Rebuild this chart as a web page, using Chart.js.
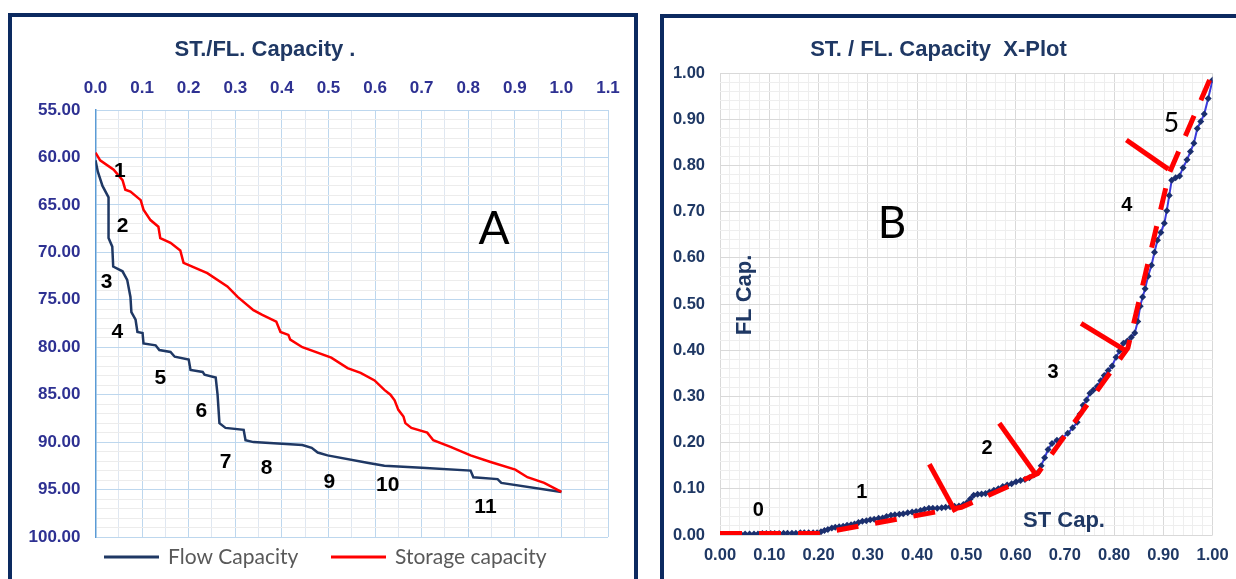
<!DOCTYPE html>
<html>
<head>
<meta charset="utf-8">
<script src="https://cdn.jsdelivr.net/npm/chart.js@4.4.1/dist/chart.umd.min.js"></script>
<style>
  body { margin: 0; background: #fff; overflow: hidden; }
  #wrap { position: relative; width: 1236px; height: 579px; overflow: hidden; }
  canvas { position: absolute; top: 0; }
  .frame { position: absolute; border: 4px solid #0c2a60; pointer-events: none; }
</style>
</head>
<body>
<div id="wrap">
  <canvas id="chartA" width="636" height="579" style="left:0"></canvas>
  <canvas id="chartB" width="596" height="579" style="left:640px"></canvas>
  <div class="frame" style="left:8px;top:13px;width:622px;height:620px"></div>
  <div class="frame" style="left:660px;top:14px;width:620px;height:620px"></div>
</div>
<script>
// ---- Panel A: capacity profiles vs depth ----
const flowCapX = [0.000, 0.005, 0.015, 0.028, 0.028, 0.036, 0.038, 0.058, 0.068, 0.075,
                  0.077, 0.086, 0.090, 0.101, 0.103, 0.129, 0.137, 0.161, 0.170, 0.200,
                  0.204, 0.230, 0.234, 0.258, 0.262, 0.266, 0.279, 0.318, 0.322, 0.339,
                  0.444, 0.464, 0.477, 0.498, 0.586, 0.620, 0.700, 0.805, 0.811, 0.863,
                  0.871, 1.000];
const flowCapDepth = [60.3, 61.5, 63.0, 64.2, 68.5, 69.4, 71.5, 72.0, 72.9, 74.7,
                      76.3, 77.1, 78.4, 78.5, 79.6, 79.8, 80.3, 80.5, 81.0, 81.3,
                      82.4, 82.6, 82.9, 83.2, 85.0, 88.0, 88.5, 88.7, 89.8, 90.0,
                      90.3, 90.6, 91.1, 91.4, 92.2, 92.5, 92.7, 93.0, 93.7, 93.9,
                      94.3, 95.25];
const storCapX = [0.000, 0.010, 0.039, 0.058, 0.064, 0.075, 0.097, 0.103, 0.118, 0.135,
                  0.139, 0.161, 0.182, 0.189, 0.240, 0.283, 0.305, 0.339, 0.358, 0.388,
                  0.397, 0.414, 0.418, 0.444, 0.506, 0.541, 0.569, 0.599, 0.620, 0.633,
                  0.642, 0.650, 0.661, 0.665, 0.678, 0.712, 0.725, 0.762, 0.805, 0.848,
                  0.901, 0.927, 0.963, 1.000];
const storCapDepth = [59.5, 60.3, 61.3, 62.4, 63.4, 63.6, 64.5, 65.5, 66.6, 67.3,
                      68.5, 69.0, 69.8, 71.1, 72.2, 73.6, 74.7, 76.1, 76.6, 77.3,
                      78.4, 78.7, 79.2, 80.0, 81.1, 82.2, 82.7, 83.5, 84.5, 85.0,
                      85.6, 86.6, 87.3, 88.0, 88.5, 89.0, 89.8, 90.5, 91.4, 92.1,
                      92.9, 93.7, 94.3, 95.25];
const aXLabels = ['0.0', '0.1', '0.2', '0.3', '0.4', '0.5', '0.6', '0.7', '0.8', '0.9', '1.0', '1.1'];
const aYLabels = ['55.00', '60.00', '65.00', '70.00', '75.00', '80.00', '85.00', '90.00', '95.00', '100.00'];
const zoneA = ['1', '2', '3', '4', '5', '6', '7', '8', '9', '10', '11'];
const zoneAX = [0.052, 0.058, 0.024, 0.047, 0.139, 0.227, 0.279, 0.367, 0.502, 0.627, 0.837];
const zoneAY = [61.5, 67.2, 73.1, 78.4, 83.3, 86.7, 92.1, 92.7, 94.2, 94.5, 96.9];

// ---- Panel B: storage / flow capacity cross plot ----
const stCap = [0.000, 0.008, 0.017, 0.026, 0.034, 0.043, 0.051, 0.060, 0.069, 0.077,
               0.086, 0.094, 0.103, 0.111, 0.120, 0.129, 0.137, 0.146, 0.154, 0.163,
               0.171, 0.180, 0.189, 0.197, 0.205, 0.212, 0.219, 0.227, 0.234, 0.242,
               0.250, 0.258, 0.266, 0.273, 0.281, 0.289, 0.297, 0.305, 0.313, 0.322,
               0.330, 0.338, 0.347, 0.355, 0.364, 0.372, 0.381, 0.390, 0.398, 0.407,
               0.415, 0.424, 0.432, 0.441, 0.450, 0.458, 0.467, 0.476, 0.485, 0.494,
               0.501, 0.508, 0.515, 0.523, 0.531, 0.539, 0.547, 0.556, 0.565, 0.574,
               0.583, 0.592, 0.601, 0.610, 0.619, 0.628, 0.637, 0.645, 0.652, 0.659,
               0.666, 0.674, 0.684, 0.695, 0.706, 0.716, 0.725, 0.731, 0.737, 0.744,
               0.751, 0.758, 0.766, 0.773, 0.780, 0.788, 0.796, 0.804, 0.811, 0.819,
               0.827, 0.835, 0.842, 0.848, 0.853, 0.858, 0.863, 0.869, 0.876, 0.882,
               0.888, 0.895, 0.902, 0.907, 0.912, 0.917, 0.925, 0.933, 0.940, 0.948,
               0.955, 0.962, 0.969, 0.976, 0.983, 0.991, 1.000];
const flCap = [0.000, 0.000, 0.001, 0.001, 0.001, 0.001, 0.002, 0.002, 0.002, 0.002,
               0.003, 0.003, 0.003, 0.003, 0.003, 0.004, 0.004, 0.004, 0.004, 0.005,
               0.005, 0.005, 0.005, 0.005, 0.007, 0.010, 0.012, 0.015, 0.017, 0.018,
               0.019, 0.021, 0.022, 0.024, 0.027, 0.030, 0.031, 0.033, 0.034, 0.036,
               0.037, 0.040, 0.043, 0.044, 0.045, 0.046, 0.048, 0.050, 0.051, 0.053,
               0.056, 0.058, 0.058, 0.058, 0.059, 0.060, 0.061, 0.062, 0.063, 0.066,
               0.070, 0.078, 0.086, 0.088, 0.089, 0.090, 0.093, 0.097, 0.100, 0.105,
               0.108, 0.111, 0.115, 0.118, 0.120, 0.124, 0.130, 0.135, 0.150, 0.167,
               0.185, 0.198, 0.205, 0.210, 0.220, 0.232, 0.244, 0.262, 0.281, 0.292,
               0.307, 0.314, 0.322, 0.334, 0.345, 0.356, 0.366, 0.385, 0.398, 0.415,
               0.420, 0.428, 0.437, 0.462, 0.495, 0.515, 0.533, 0.560, 0.584, 0.612,
               0.638, 0.655, 0.675, 0.702, 0.735, 0.768, 0.773, 0.777, 0.795, 0.812,
               0.830, 0.848, 0.880, 0.895, 0.911, 0.945, 0.985];
// straight-line fit through the flow units, and the break markers between units
const fitSt = [0.000, 0.200, 0.490, 0.645, 0.828, 0.912, 1.000];
const fitFl = [0.003, 0.003, 0.060, 0.133, 0.405, 0.783, 1.000];
const breakSt = [[0.425, 0.478], [0.567, 0.643], [0.733, 0.827], [0.825, 0.910]];
const breakFl = [[0.153, 0.050], [0.242, 0.128], [0.458, 0.397], [0.855, 0.792]];
const bLabels = ['0.00', '0.10', '0.20', '0.30', '0.40', '0.50', '0.60', '0.70', '0.80', '0.90', '1.00'];
const zoneB = ['0', '1', '2', '3', '4', '5'];
const zoneBX = [0.078, 0.288, 0.542, 0.676, 0.826, 0.916];
const zoneBY = [0.054, 0.093, 0.188, 0.351, 0.714, 0.892];

const ARIAL = "'Liberation Sans', Arial, sans-serif";
const LATO = "Lato, 'Open Sans', sans-serif";
const NAVY = '#1f3864';

const pts = (xs, ys) => xs.map((x, i) => ({ x, y: ys[i] }));

// free text and the line legend, drawn after the datasets
const textLayer = {
  id: 'textLayer',
  afterDatasetsDraw(chart, args, opts) {
    const { ctx, scales } = chart;
    ctx.save();
    ctx.textBaseline = 'middle';
    (opts.items || []).forEach(t => {
      const px = t.data ? scales.x.getPixelForValue(t.x) : t.x;
      const py = t.data ? scales.y.getPixelForValue(t.y) : t.y;
      ctx.save();
      ctx.translate(px, py);
      if (t.rot) ctx.rotate(t.rot);
      ctx.font = t.font;
      ctx.fillStyle = t.color || '#000';
      ctx.textAlign = t.align || 'center';
      ctx.fillText(t.text, 0, 0);
      ctx.restore();
    });
    (opts.legend || []).forEach(l => {
      const ds = chart.data.datasets[l.dataset];
      ctx.strokeStyle = ds.borderColor;
      ctx.lineWidth = 3;
      ctx.beginPath();
      ctx.moveTo(l.x, l.y);
      ctx.lineTo(l.x + 55, l.y);
      ctx.stroke();
      ctx.font = '21px ' + LATO;
      ctx.fillStyle = '#595959';
      ctx.textAlign = 'left';
      ctx.fillText(ds.label, l.x + 64, l.y);
    });
    ctx.restore();
  }
};

const zoneItemsA = zoneA.map((t, i) => ({ text: t, x: zoneAX[i], y: zoneAY[i], data: true, font: 'bold 21px ' + ARIAL }));

new Chart(document.getElementById('chartA'), {
  type: 'scatter',
  data: {
    datasets: [
      { label: 'Storage capacity', data: pts(storCapX, storCapDepth), showLine: true,
        borderColor: '#ff0000', borderWidth: 2.5, pointRadius: 0 },
      { label: 'Flow Capacity', data: pts(flowCapX, flowCapDepth), showLine: true,
        borderColor: NAVY, borderWidth: 2.5, pointRadius: 0 }
    ]
  },
  options: {
    responsive: false,
    animation: false,
    layout: { padding: { left: 0, top: 0, right: 28, bottom: 42 } },
    plugins: {
      legend: { display: false },
      tooltip: { enabled: false },
      textLayer: {
        items: [
          { text: 'ST./FL. Capacity .', x: 265, y: 50, font: 'bold 22px ' + ARIAL, color: NAVY },
          { text: 'A', x: 494, y: 229, font: '46px ' + LATO },
          ...zoneItemsA
        ],
        legend: [{ dataset: 1, x: 104, y: 557 }, { dataset: 0, x: 331, y: 557 }]
      }
    },
    scales: {
      x: {
        type: 'linear', position: 'top', min: 0, max: 1.1,
        ticks: {
          stepSize: 0.05, autoSkip: false, maxRotation: 0, padding: 11,
          color: '#2e3192', font: { family: ARIAL, size: 17, weight: 'bold' },
          callback: v => { const k = Math.round(v * 20); return k % 2 ? '' : aXLabels[k / 2]; }
        },
        grid: { drawTicks: false, color: c => Math.round(c.tick.value * 20) % 2 ? '#dfe7f1' : '#bdd7ee' },
        border: { display: false },
        afterFit: s => { s.height = 110; s.paddingLeft = 0; s.paddingRight = 0; }
      },
      y: {
        type: 'linear', reverse: true, min: 55, max: 100,
        ticks: {
          stepSize: 1, autoSkip: false, padding: 15,
          color: '#2e3192', font: { family: ARIAL, size: 17, weight: 'bold' },
          callback: v => (Math.round(v) % 5 ? '' : aYLabels[(Math.round(v) - 55) / 5])
        },
        grid: { drawTicks: false, color: c => Math.round(c.tick.value) % 5 ? '#ececec' : '#bdd7ee' },
        border: { display: true, color: '#5b9bd5', width: 1.5 },
        afterFit: s => { s.width = 95.5; s.paddingTop = 0; s.paddingBottom = 0; }
      }
    }
  },
  plugins: [textLayer]
});

const zoneItemsB = zoneB.map((t, i) => ({
  text: t, x: zoneBX[i], y: zoneBY[i], data: true,
  font: i < 5 ? 'bold 20px ' + ARIAL : '27px ' + LATO
}));

const breakSets = breakSt.map((xs, i) => ({
  data: pts(xs, breakFl[i]), showLine: true, borderColor: '#ff0000', borderWidth: 5,
  borderCapStyle: 'butt', pointRadius: 0
}));

new Chart(document.getElementById('chartB'), {
  type: 'scatter',
  data: {
    datasets: [
      { label: 'Fit', data: pts(fitSt, fitFl), showLine: true, borderColor: '#ff0000',
        borderWidth: 5, borderDash: [22, 17], borderCapStyle: 'butt', pointRadius: 0 },
      ...breakSets,
      { label: 'FL vs ST', data: pts(stCap, flCap), showLine: true, borderColor: '#3b3bdc',
        borderWidth: 2, pointStyle: 'rectRot', pointRadius: 3.5, pointBorderWidth: 0,
        pointBackgroundColor: '#1b2f6e' }
    ]
  },
  options: {
    responsive: false,
    animation: false,
    layout: { padding: { left: 0, top: 73, right: 23.4, bottom: 0 } },
    plugins: {
      legend: { display: false },
      tooltip: { enabled: false },
      textLayer: {
        items: [
          { text: 'ST. / FL. Capacity  X-Plot', x: 298.5, y: 50, font: 'bold 22px ' + ARIAL, color: NAVY },
          { text: 'B', x: 252, y: 224, font: '44px ' + LATO },
          { text: 'FL Cap.', x: 105, y: 295, rot: -Math.PI / 2, font: 'bold 22px ' + ARIAL, color: NAVY },
          { text: 'ST Cap.', x: 424, y: 521, font: 'bold 22px ' + ARIAL, color: NAVY },
          ...zoneItemsB
        ]
      }
    },
    scales: {
      x: {
        type: 'linear', position: 'bottom', min: 0, max: 1,
        ticks: {
          stepSize: 0.02, autoSkip: false, maxRotation: 0, padding: 11,
          color: NAVY, font: { family: ARIAL, size: 16.5, weight: 'bold' },
          callback: v => { const k = Math.round(v * 50); return k % 5 ? '' : bLabels[k / 5]; }
        },
        grid: { drawTicks: false, color: c => Math.round(c.tick.value * 50) % 5 ? '#eeeeee' : '#d9d9d9' },
        border: { display: false },
        afterFit: s => { s.height = 44; s.paddingLeft = 0; s.paddingRight = 0; }
      },
      y: {
        type: 'linear', min: 0, max: 1,
        ticks: {
          stepSize: 0.02, autoSkip: false, padding: 15,
          color: NAVY, font: { family: ARIAL, size: 16.5, weight: 'bold' },
          callback: v => { const k = Math.round(v * 50); return k % 5 ? '' : bLabels[k / 5]; }
        },
        grid: { drawTicks: false, color: c => Math.round(c.tick.value * 50) % 5 ? '#eeeeee' : '#d9d9d9' },
        border: { display: false },
        afterFit: s => { s.width = 80; s.paddingTop = 0; s.paddingBottom = 0; }
      }
    }
  },
  plugins: [textLayer]
});
</script>
</body>
</html>
